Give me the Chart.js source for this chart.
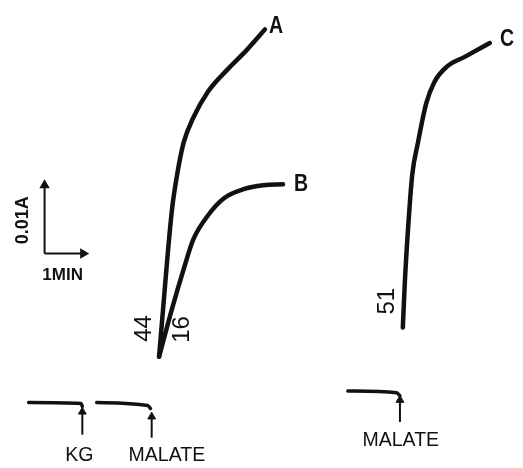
<!DOCTYPE html>
<html>
<head>
<meta charset="utf-8">
<script src="https://cdn.jsdelivr.net/npm/chart.js@4/dist/chart.umd.min.js"></script>
<style>
  html, body { margin: 0; padding: 0; background: #fff; }
  #wrap { width: 523px; height: 468px; }
</style>
</head>
<body>
<div id="wrap"><canvas id="chart" width="523" height="468"></canvas></div>
<script>
// recorder traces: x = time (min), y = absorbance (mA, 0.001 A)
const traceA = [
  { x: 3.73, y: 14.4 }, { x: 3.85, y: 22.4 }, { x: 3.95, y: 29.07 }, { x: 4.05, y: 34.8 },
  { x: 4.17, y: 39.33 }, { x: 4.33, y: 43.73 }, { x: 4.56, y: 47.07 }, { x: 4.92, y: 50.67 },
  { x: 5.40, y: 53.73 }, { x: 5.87, y: 56.4 }, { x: 6.31, y: 59.2 }
];
const traceB = [
  { x: 3.73, y: 14.4 }, { x: 4.05, y: 21.07 }, { x: 4.33, y: 26.4 }, { x: 4.56, y: 30.4 },
  { x: 4.92, y: 33.73 }, { x: 5.32, y: 36.13 }, { x: 5.79, y: 37.33 }, { x: 6.27, y: 37.87 },
  { x: 6.75, y: 38.0 }
];
const traceC = [
  { x: 9.67, y: 18.4 }, { x: 9.72, y: 24.67 }, { x: 9.80, y: 32.13 }, { x: 9.90, y: 39.33 },
  { x: 10.04, y: 43.73 }, { x: 10.24, y: 49.07 }, { x: 10.44, y: 52.0 }, { x: 10.75, y: 54.13 },
  { x: 11.19, y: 55.47 }, { x: 11.79, y: 57.33 }
];

// baselines before each addition
const baseKG = [{ x: 0.55, y: 8.13 }, { x: 1.83, y: 8.0 }, { x: 1.86, y: 7.6 }];
const baseMalate = [{ x: 2.21, y: 8.13 }, { x: 3.45, y: 7.73 }, { x: 3.52, y: 7.33 }];
const baseMalateC = [{ x: 8.33, y: 9.73 }, { x: 9.52, y: 9.47 }, { x: 9.60, y: 9.07 }];

// additions
const additions = ['KG', 'MALATE', 'MALATE'];
const additionTimes = [1.86, 3.55, 9.60];

const curveNames = ['A', 'B', 'C'];
const rates = ['44', '16', '51'];

// scale bar: 1 min by 0.01 A
const barOrigin = { x: 0.94, y: 28.53 };
const barMinutes = 1;
const barMilliA = 10;

const X_MAX = 523 / 42;
const Y_MAX = 468 / 7.5;
const ink = '#111';

// arrow shaft ends (mA) for each addition mark
const arrowLayout = [
  { bottom: 3.73, top: 6.87 },
  { bottom: 3.33, top: 6.2 },
  { bottom: 5.47, top: 8.47 }
];

const arrowSets = additionTimes.map((t, i) => ({
  data: [{ x: t, y: arrowLayout[i].bottom }, { x: t, y: arrowLayout[i].top }],
  borderColor: ink,
  borderWidth: 2,
  pointRadius: [0, 4.5],
  pointStyle: 'triangle',
  pointBackgroundColor: ink,
  pointBorderColor: ink,
  pointBorderWidth: 1
}));

const notes = [
  { text: curveNames[0], x: 6.58, y: 59.6, font: 'bold 23px "Liberation Sans"', squeeze: 0.85 },
  { text: curveNames[1], x: 7.19, y: 38.0, font: 'bold 23px "Liberation Sans"', squeeze: 0.85 },
  { text: curveNames[2], x: 12.21, y: 57.73, font: 'bold 23px "Liberation Sans"', squeeze: 0.85 },
  { text: rates[0], x: 3.36, y: 18.27, rot: -Math.PI / 2, font: '24px "Liberation Sans"' },
  { text: rates[1], x: 4.31, y: 18.13, rot: -Math.PI / 2, font: '24px "Liberation Sans"' },
  { text: rates[2], x: 9.29, y: 22.0, rot: -Math.PI / 2, font: '24px "Liberation Sans"' },
  { text: '0.01A', x: 0.42, y: 33.07, rot: -Math.PI / 2, font: 'bold 18px "Liberation Sans"' },
  { text: '1MIN', x: 1.38, y: 24.93, base: 'alphabetic', font: 'bold 17px "Liberation Sans"' },
  { text: additions[0], x: 1.79, y: 0.13, base: 'alphabetic', font: '19.5px "Liberation Sans"' },
  { text: additions[1], x: 3.92, y: 0.13, base: 'alphabetic', font: '19.5px "Liberation Sans"' },
  { text: additions[2], x: 9.62, y: 2.13, base: 'alphabetic', font: '19.5px "Liberation Sans"' }
];

const textLabels = {
  id: 'textLabels',
  afterDatasetsDraw(chart) {
    const { ctx, scales: { x, y } } = chart;
    notes.forEach((n) => {
      ctx.save();
      ctx.translate(x.getPixelForValue(n.x), y.getPixelForValue(n.y));
      ctx.rotate(n.rot || 0);
      ctx.scale(n.squeeze || 1, 1);
      ctx.font = n.font;
      ctx.fillStyle = ink;
      ctx.textAlign = 'center';
      ctx.textBaseline = n.base || 'middle';
      ctx.fillText(n.text, 0, 0);
      ctx.restore();
    });
  }
};

const trace = (data, width) => ({
  data: data,
  borderColor: ink,
  borderWidth: width,
  borderCapStyle: 'round',
  borderJoinStyle: 'round',
  cubicInterpolationMode: 'monotone',
  pointRadius: 0
});

const ctx = document.getElementById('chart').getContext('2d');
new Chart(ctx, {
  type: 'scatter',
  data: {
    datasets: [
      trace(traceA, 4.5),
      trace(traceB, 4.5),
      trace(traceC, 4.5),
      trace(baseKG, 3.5),
      trace(baseMalate, 3.5),
      trace(baseMalateC, 3.5),
      ...arrowSets,
      {
        data: [barOrigin, { x: barOrigin.x, y: barOrigin.y + barMilliA - 0.67 }],
        borderColor: ink,
        borderWidth: 2,
        pointRadius: [0, 4],
        pointStyle: 'triangle',
        pointBackgroundColor: ink,
        pointBorderColor: ink
      },
      {
        data: [barOrigin, { x: barOrigin.x + barMinutes - 0.06, y: barOrigin.y }],
        borderColor: ink,
        borderWidth: 2,
        pointRadius: [0, 4],
        pointRotation: [0, 90],
        pointStyle: 'triangle',
        pointBackgroundColor: ink,
        pointBorderColor: ink
      }
    ]
  },
  options: {
    responsive: false,
    animation: false,
    devicePixelRatio: 1,
    showLine: true,
    layout: { padding: 0 },
    plugins: { legend: { display: false }, tooltip: { enabled: false } },
    scales: {
      x: { type: 'linear', min: 0, max: X_MAX, display: false },
      y: { type: 'linear', min: 0, max: Y_MAX, display: false }
    }
  },
  plugins: [textLabels]
});
</script>
</body>
</html>
